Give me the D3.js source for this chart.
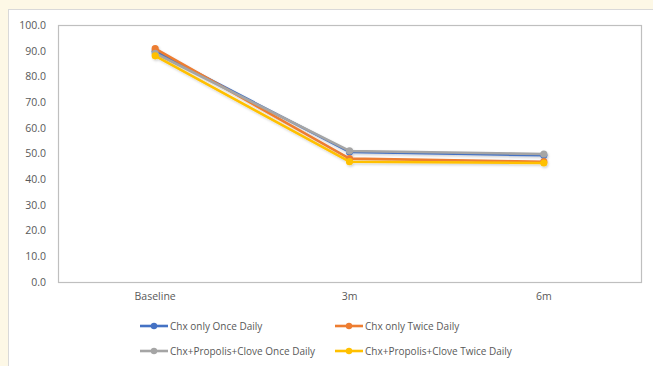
<!DOCTYPE html>
<html>
<head>
<meta charset="utf-8">
<script src="https://cdn.jsdelivr.net/npm/d3@7"></script>
<style>
  html, body { margin: 0; padding: 0; background: #fdf8e6; }
  svg { display: block; }
  text { font-family: "Open Sans", "Liberation Sans", sans-serif; fill: #595959; }
</style>
</head>
<body>
<svg id="chart" width="653" height="366"></svg>
<script>
// Time points and series values (mean scores)
const categories = ["Baseline", "3m", "6m"];
const seriesNames = [
  "Chx only Once Daily",
  "Chx only Twice Daily",
  "Chx+Propolis+Clove Once Daily",
  "Chx+Propolis+Clove Twice Daily"
];
const chxOnce = [89.8, 50.6, 49.3];
const chxTwice = [90.8, 48.0, 46.8];
const comboOnce = [89.0, 51.0, 49.8];
const comboTwice = [88.0, 46.8, 46.3];
const yTicks = [0, 10, 20, 30, 40, 50, 60, 70, 80, 90, 100];

const colors = ["#4472c4", "#ed7d31", "#a5a5a5", "#ffc000"];
const series = [chxOnce, chxTwice, comboOnce, comboTwice].map((v, i) => ({
  name: seriesNames[i], values: v, color: colors[i]
}));

const svg = d3.select("#chart");

// White chart card
svg.append("rect")
  .attr("x", 8.5).attr("y", 9.5)
  .attr("width", 660).attr("height", 370)
  .attr("fill", "#ffffff")
  .attr("stroke", "#d9d9d9");

const plot = { left: 58, top: 25, right: 641, bottom: 282 };

const x = d3.scaleBand().domain(categories).range([plot.left, plot.right]);
const y = d3.scaleLinear().domain([0, 100]).range([plot.bottom, plot.top]);

// Soft shadow behind the lines
const defs = svg.append("defs");
const f = defs.append("filter").attr("id", "glow")
  .attr("x", "-10%").attr("y", "-30%").attr("width", "120%").attr("height", "160%");
f.append("feDropShadow").attr("dx", 1).attr("dy", 1.5).attr("stdDeviation", 1.2)
  .attr("flood-color", "#000").attr("flood-opacity", 0.18);

// Plot area border
svg.append("rect")
  .attr("x", plot.left + 0.5).attr("y", plot.top + 0.5)
  .attr("width", plot.right - plot.left).attr("height", plot.bottom - plot.top)
  .attr("fill", "none").attr("stroke", "#bfbfbf").attr("stroke-width", 1.2);

// Y axis labels
const yAxis = d3.axisLeft(y).tickValues(yTicks).tickSize(0).tickPadding(12)
  .tickFormat(d3.format(".1f"));
const yg = svg.append("g").attr("transform", `translate(${plot.left},0)`).call(yAxis);
yg.select(".domain").remove();
yg.selectAll("text").style("font-size", "10.5px").attr("fill", "#595959")
  .style("font-family", "'Open Sans', 'Liberation Sans', sans-serif");

// X axis labels
const xAxis = d3.axisBottom(x).tickSize(0).tickPadding(11);
const xg = svg.append("g").attr("transform", `translate(0,${plot.bottom})`).call(xAxis);
xg.select(".domain").remove();
xg.selectAll("text").style("font-size", "10.5px").attr("fill", "#595959")
  .style("font-family", "'Open Sans', 'Liberation Sans', sans-serif");

const cx = c => x(c) + x.bandwidth() / 2;
const line = d3.line().x((d, i) => cx(categories[i])).y(d => y(d));

const g = svg.append("g").attr("filter", "url(#glow)");
series.forEach(s => {
  g.append("path")
    .datum(s.values)
    .attr("d", line)
    .attr("fill", "none")
    .attr("stroke", s.color)
    .attr("stroke-width", 2.6)
    .attr("stroke-linejoin", "round");
  g.selectAll(null)
    .data(s.values)
    .join("circle")
    .attr("cx", (d, i) => cx(categories[i]))
    .attr("cy", d => y(d))
    .attr("r", 3.6)
    .attr("fill", s.color);
});

// Legend in two rows
const legendPos = [[140, 326], [335, 326], [140, 351], [335, 351]];
series.forEach((s, i) => {
  const [lx, ly] = legendPos[i];
  const lg = svg.append("g").attr("transform", `translate(${lx},${ly})`);
  lg.append("line").attr("x1", 0).attr("x2", 28).attr("y1", 0).attr("y2", 0)
    .attr("stroke", s.color).attr("stroke-width", 2.6);
  lg.append("circle").attr("cx", 14).attr("cy", 0).attr("r", 3.2).attr("fill", s.color);
  lg.append("text").attr("x", 30).attr("y", 0).attr("dy", "0.35em")
    .style("font-size", "10px").text(s.name);
});
</script>
</body>
</html>
